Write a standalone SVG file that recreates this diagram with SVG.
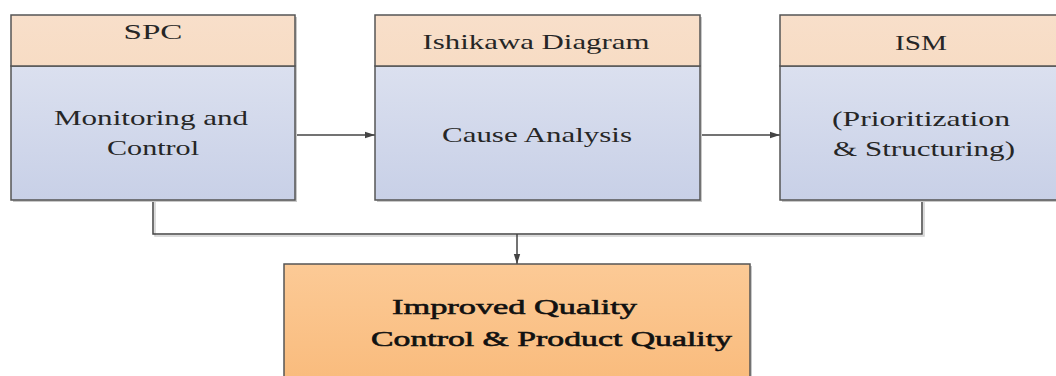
<svg xmlns="http://www.w3.org/2000/svg" width="1056" height="376" viewBox="0 0 1056 376">
<defs>
<linearGradient id="gHead" x1="0" y1="0" x2="0" y2="1"><stop offset="0" stop-color="#f8dfca"/><stop offset="1" stop-color="#f7dcc4"/></linearGradient>
<linearGradient id="gBody" x1="0" y1="0" x2="0" y2="1"><stop offset="0" stop-color="#dbe0ef"/><stop offset="1" stop-color="#c8d0e7"/></linearGradient>
<linearGradient id="gOut" x1="0" y1="0" x2="0" y2="1"><stop offset="0" stop-color="#fcca96"/><stop offset="1" stop-color="#f9bb7c"/></linearGradient>
<marker id="arr" markerWidth="10" markerHeight="8" refX="10" refY="4" orient="auto" markerUnits="userSpaceOnUse"><path d="M0,0.8 L10,4 L0,7.2 Z" fill="#444"/></marker>
</defs>
<style>
.box{stroke:#555;stroke-width:1.5}
.shadow{fill:#c8c8c8}
.head{fill:url(#gHead)}
.body{fill:url(#gBody)}
.out{fill:url(#gOut)}
text{font-family:"Liberation Serif","Times New Roman",serif;fill:#262626;text-anchor:middle}
.t{font-size:21px}
.b{font-size:22px;text-anchor:start;fill:#111;stroke:#111;stroke-width:0.6}
.con{fill:none;stroke:#444;stroke-width:1.5}
.conShadow{fill:none;stroke:#d0d0d0;stroke-width:1.5}
</style>
<rect width="1056" height="376" fill="#ffffff"/>
<g id="connectors">
<path class="conShadow" d="M155,202 V236 H924 V202"/>
<path class="con" d="M295,135 H375" marker-end="url(#arr)"/>
<path class="con" d="M700,135 H780" marker-end="url(#arr)"/>
<path class="con" d="M153,200 V234 H922 V200"/>
<path class="con" d="M517,234 V264" marker-end="url(#arr)"/>
</g>
<g id="node-spc">
<rect class="shadow" x="13" y="17" width="284" height="185"/>
<rect class="box body" x="11" y="66" width="284" height="134"/>
<rect class="box head" x="11" y="15" width="284" height="51"/>
<text class="t" x="153" y="39" textLength="59" lengthAdjust="spacingAndGlyphs">SPC</text>
<text class="t" x="151" y="125" textLength="194" lengthAdjust="spacingAndGlyphs">Monitoring and</text>
<text class="t" x="153" y="155" textLength="92" lengthAdjust="spacingAndGlyphs">Control</text>
</g>
<g id="node-ishikawa">
<rect class="shadow" x="377" y="17" width="325" height="185"/>
<rect class="box body" x="375" y="66" width="325" height="134"/>
<rect class="box head" x="375" y="15" width="325" height="51"/>
<text class="t" x="536" y="49" textLength="227" lengthAdjust="spacingAndGlyphs">Ishikawa Diagram</text>
<text class="t" x="537" y="142" textLength="190" lengthAdjust="spacingAndGlyphs">Cause Analysis</text>
</g>
<g id="node-ism">
<rect class="shadow" x="782" y="17" width="284" height="185"/>
<rect class="box body" x="780" y="66" width="284" height="134"/>
<rect class="box head" x="780" y="15" width="284" height="51"/>
<text class="t" x="921" y="50" textLength="52" lengthAdjust="spacingAndGlyphs">ISM</text>
<text class="t" x="921" y="126" textLength="178" lengthAdjust="spacingAndGlyphs">(Prioritization</text>
<text class="t" x="924" y="156" textLength="182" lengthAdjust="spacingAndGlyphs">&amp; Structuring)</text>
</g>
<g id="node-result">
<rect class="shadow" x="286" y="266" width="466" height="120"/>
<rect class="box out" x="284" y="264" width="466" height="120"/>
<text class="b" x="392" y="314" textLength="245" lengthAdjust="spacingAndGlyphs">Improved Quality</text>
<text class="b" x="371" y="346" textLength="361" lengthAdjust="spacingAndGlyphs">Control &amp; Product Quality</text>
</g>
</svg>
